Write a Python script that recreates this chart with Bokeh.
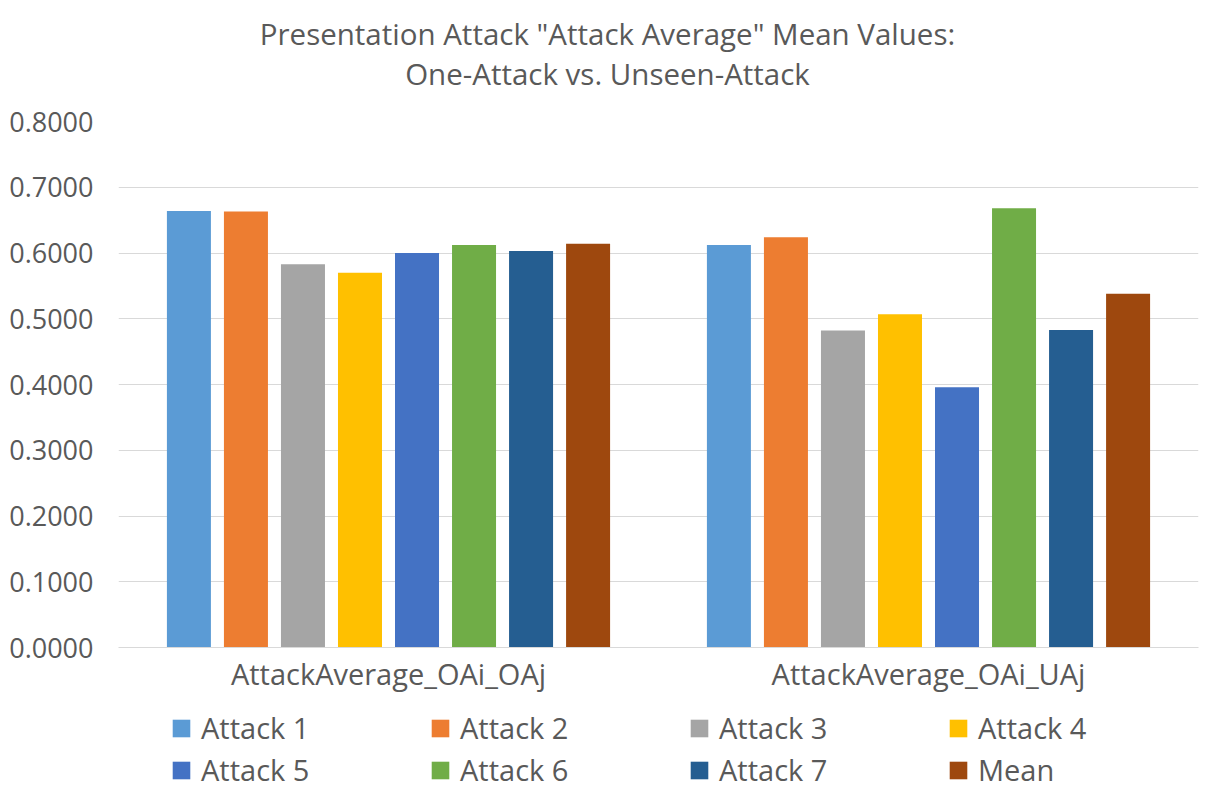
from bokeh.plotting import figure
from bokeh.layouts import column
from bokeh.models import (ColumnDataSource, FactorRange, Range1d, Legend, LegendItem,
                          NumeralTickFormatter, SingleIntervalTicker, Label)
from bokeh.transform import dodge
from bokeh.embed import file_html
from bokeh.resources import INLINE

categories = ["AttackAverage_OAi_OAj", "AttackAverage_OAi_UAj"]
series = ["Attack 1", "Attack 2", "Attack 3", "Attack 4", "Attack 5", "Attack 6", "Attack 7", "Mean"]
attack1 = [0.664, 0.612]
attack2 = [0.663, 0.624]
attack3 = [0.583, 0.482]
attack4 = [0.570, 0.507]
attack5 = [0.600, 0.396]
attack6 = [0.612, 0.668]
attack7 = [0.603, 0.483]
mean = [0.614, 0.538]
values = [attack1, attack2, attack3, attack4, attack5, attack6, attack7, mean]
colors = ["#5B9BD5", "#ED7D31", "#A5A5A5", "#FFC000", "#4472C4", "#70AD47", "#255E91", "#9E480E"]
title_lines = ["Presentation Attack \"Attack Average\" Mean Values:", "One-Attack vs. Unseen-Attack"]

FONT = "Open Sans"
TXT = "#595959"
W = 1206
FW = 1080

# --- title strip (frame aligned with the chart frame) ---
t = figure(width=W, height=101, x_range=Range1d(0, FW), y_range=Range1d(0, 101),
           output_backend="svg", toolbar_location=None,
           x_axis_location=None, y_axis_location=None, min_border=0)
t.grid.visible = False
t.outline_line_color = None
for txt, yy in zip(title_lines, [68, 28]):
    t.add_layout(Label(x=489, y=yy, text=txt, text_align="center", text_baseline="middle",
                       text_font=FONT, text_font_size="29.5px", text_color=TXT))

# --- main chart ---
p = figure(x_range=FactorRange(*categories, range_padding=0), y_range=Range1d(0, 0.8),
           frame_width=FW, frame_height=526, output_backend="svg", toolbar_location=None,
           min_border_left=118, min_border_right=8, min_border_top=20, min_border_bottom=52)
p.title = None

pitch = 0.1056
bw = 0.0815
for i, (name, vals, col) in enumerate(zip(series, values, colors)):
    src = ColumnDataSource(dict(cat=categories, val=vals))
    p.vbar(x=dodge("cat", (i - 3.5) * pitch, range=p.x_range), top="val", width=bw,
           source=src, fill_color=col, line_color=None)

p.yaxis.ticker = SingleIntervalTicker(interval=0.1)
p.yaxis.formatter = NumeralTickFormatter(format="0.0000")
p.yaxis.axis_line_color = None
p.yaxis.major_tick_line_color = None
p.yaxis.minor_tick_line_color = None
p.yaxis.major_label_text_font = FONT
p.yaxis.major_label_text_font_size = "27px"
p.yaxis.major_label_text_color = TXT
p.yaxis.major_label_standoff = 19

p.xaxis.axis_line_color = "#D9D9D9"
p.xaxis.major_tick_line_color = None
p.xaxis.minor_tick_line_color = None
p.xaxis.major_label_text_font = FONT
p.xaxis.major_label_text_font_size = "29px"
p.xaxis.major_label_text_color = TXT
p.xaxis.major_label_standoff = 0

p.xgrid.grid_line_color = None
p.ygrid.grid_line_color = "#D9D9D9"
p.ygrid.grid_line_width = 1
p.outline_line_color = None

# --- legend strip (frame aligned with the chart frame) ---
lg = figure(width=W, height=92, x_range=Range1d(0, FW), y_range=Range1d(0, 92),
            output_backend="svg", toolbar_location=None,
            x_axis_location=None, y_axis_location=None, min_border=0)
lg.grid.visible = False
lg.outline_line_color = None
items = []
for name, col in zip(series, colors):
    r = lg.vbar(x=[-100], top=[-100], width=1, fill_color=col, line_color=None)
    items.append(LegendItem(label=name, renderers=[r]))
legend = Legend(items=items, ncols=4, orientation="horizontal", location=(52, 2),
                label_text_font=FONT, label_text_font_size="29px", label_text_color=TXT,
                glyph_width=22, glyph_height=22, label_standoff=9, label_width=225,
                label_height=30, spacing=3, padding=0, border_line_color=None,
                background_fill_alpha=0, margin=0)
lg.add_layout(legend, "center")

layout = column(t, p, lg, spacing=0)
open("out.html", "w").write(file_html(layout, INLINE))
